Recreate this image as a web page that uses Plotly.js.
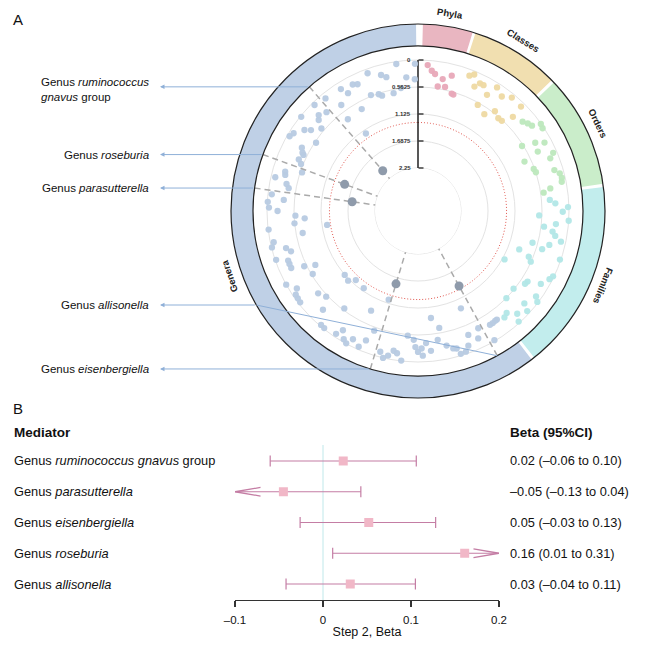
<!DOCTYPE html>
<html><head><meta charset="utf-8">
<script src="https://cdn.plot.ly/plotly-3.0.1.min.js"></script>
<style>html,body{margin:0;padding:0;background:#fff}</style>
</head><body><div id="chart" style="width:660px;height:662px"></div>
<script>
// ================= Panel A data (angle in degrees, value = -log10 P) =================
const phylaTheta = [3.8, 5.6, 7.1, 9.0, 10.6, 12.3, 14.0, 16.0, 16.9];
const phylaLogP  = [0.10, 0.21, 0.27, 0.52, 0.35, 0.50, 0.24, 0.60, 0.61];

const classTheta = [20.8, 22.4, 24.4, 25.9, 27.5, 29.4, 30.7, 32.6, 34.4, 36.2, 37.6, 39.6, 40.9, 42.9, 44.6, 45.2];
const classLogP  = [0.13, 0.07, 0.30, 0.19, 0.19, 0.61, 0.33, 0.09, 0.70, 0.19, 0.52, 0.08, 0.59, 0.58, 0.09, 0.36];

const orderTheta = [49.5, 51.4, 53.2, 54.7, 56.4, 58.0, 59.8, 61.6, 63.6, 65.1, 66.7, 68.3, 70.0, 71.8, 73.3, 75.1, 77.0, 78.5, 80.3, 81.7];
const orderLogP  = [0.28, 0.22, 0.18, 0.01, 0.03, 0.59, 0.32, 0.15, 0.36, 0.70, 0.08, 0.18, 0.58, 0.56, 0.18, 0.09, 0.07, 0.09, 0.35, 0.50];

const familyTheta = [85.2, 86.8, 88.5, 90.3, 92.1, 93.7, 95.4, 97.1, 98.7, 100.3, 102.1, 104.5, 105.5, 107.1, 108.9, 110.8, 112.4, 114.2, 115.8, 117.4, 119.2, 120.7, 122.8, 124.2, 125.9, 127.3, 129.1, 131.0, 132.5, 134.6, 136.0, 137.7, 139.0, 140.9];
const familyLogP  = [0.39, 0.28, 0.02, 0.13, 0.62, 0.00, 0.26, 0.50, 0.31, 0.24, 0.10, 0.32, 0.67, 0.44, 0.02, 0.89, 0.65, 0.57, 0.02, 0.06, 1.08, 0.17, 0.43, 0.45, 0.11, 0.02, 0.58, 0.21, 0.06, 0.56, 0.17, 0.03, 0.33, 0.29];

const genusTheta = [144.0,144.9,146.3,147.7,149.4,152.8,154.7,156.2,157.9,159.5,
  161.2,163.3,164.3,165.6,168.0,169.7,171.3,173.1,174.7,176.5,
  178.1,178.5,180.0,181.1,181.9,184.7,186.4,188.4,189.9,191.7,
  193.4,195.0,198.3,200.1,201.9,203.6,205.2,206.9,208.5,210.1,
  212.2,213.7,215.1,217.1,218.7,220.4,222.0,223.9,225.1,227.0,
  228.9,230.5,232.2,234.0,235.6,237.4,239.1,240.8,242.3,244.1,
  245.8,247.6,249.1,251.0,252.4,254.3,256.0,257.8,259.2,261.3,
  262.9,264.3,266.3,267.8,270.0,271.3,273.5,274.7,276.5,280.0,
  281.6,283.3,285.2,286.5,288.4,291.9,293.4,296.1,296.8,298.6,
  300.2,302.0,303.8,305.5,307.1,308.9,310.5,312.5,314.0,315.7,
  317.2,320.6,322.6,324.1,326.1,327.7,329.3,331.1,332.7,334.5,
  337.9,339.9,341.4,342.7,344.8,346.7,348.3,351.6,352.1,355.0,
  358.6,358.8];
const genusLogP = [0.35,0.35,0.34,0.34,0.02,0.40,0.21,0.93,0.36,0.15,
  0.05,0.04,0.17,0.19,0.28,0.67,0.43,0.90,0.22,0.39,
  0.13,0.28,0.21,0.31,0.46,0.54,0.01,0.15,0.19,0.07,
  0.00,0.11,1.20,0.49,0.24,0.06,0.85,0.15,0.01,0.06,
  0.21,0.07,1.18,0.60,0.02,0.03,1.21,0.29,1.09,0.53,
  1.12,0.45,0.04,0.05,0.06,0.15,0.59,0.00,0.73,0.51,
  0.25,0.25,0.25,0.02,0.37,0.29,0.01,0.07,0.70,1.23,
  0.01,0.56,0.78,0.59,0.22,0.04,0.01,0.34,0.08,0.41,
  0.35,0.09,0.28,0.26,0.60,0.52,0.44,0.49,0.45,0.39,
  0.05,0.09,0.59,0.24,0.35,0.02,0.50,0.34,0.27,0.06,
  0.34,0.11,0.74,0.42,1.20,0.14,0.29,0.72,0.18,0.22,
  0.54,0.09,0.58,0.63,0.21,0.28,0.64,0.05,0.56,0.35,
  0.40,0.08];

// significant genera (mediators)
const sigLabels = ['Genus <i>ruminococcus</i><br><i>gnavus</i> group', 'Genus <i>roseburia</i>', 'Genus <i>parasutterella</i>', 'Genus <i>eisenbergiella</i>', 'Genus <i>allisonella</i>'];
const sigTheta = [318.8, 290.0, 278.0, 196.8, 151.3];
const sigLogP  = [2.03, 1.52, 1.76, 1.56, 1.365];

const radialTicks = [0, 0.5625, 1.125, 1.6875, 2.25];
const threshold = 1.301;   // -log10(0.05)

const ringNames = ['Phyla', 'Classes', 'Orders', 'Families', 'Genera'];
const ringStart = [1.5, 17.9, 46.6, 82.6, 142.6];
const ringEnd   = [17.0, 45.6, 81.6, 141.6, 359.4];
const ringColors = ['#e9b6c1', '#f1dfb0', '#caedca', '#c2eded', '#bfd0e6'];
const pointColors = ['#e8a8b8', '#eed9a2', '#bde8bd', '#b2e7e7', '#b7cae2'];

// ================= Panel B data =================
const mediators = ['Genus <i>ruminococcus gnavus</i> group', 'Genus <i>parasutterella</i>', 'Genus <i>eisenbergiella</i>', 'Genus <i>roseburia</i>', 'Genus <i>allisonella</i>'];
const beta   = [0.023, -0.045, 0.052, 0.161, 0.031];
const ciLow  = [-0.060, -0.13, -0.026, 0.011, -0.042];
const ciHigh = [0.106, 0.043, 0.128, 0.31, 0.105];
const betaText = ['0.02 (\u20130.06 to 0.10)', '\u20130.05 (\u20130.13 to 0.04)', '0.05 (\u20130.03 to 0.13)', '0.16 (0.01 to 0.31)', '0.03 (\u20130.04 to 0.11)'];
const xTicks = [-0.1, 0, 0.1, 0.2];
const xTickText = ['\u20130.1', '0', '0.1', '0.2'];

// ================= geometry / styling =================
const W = 660, H = 662;
const CX = 418, CY = 211;        // circle centre (px)
const R_IN = 165, R_OUT = 187, R_HOLE = 43, R_ZERO = 151;
const pxPerUnit = (R_ZERO - R_HOLE) / 2.25;
const rMin = -(R_IN - R_ZERO) / pxPerUnit;
const FONT = 'Liberation Sans, Arial, Helvetica, sans-serif';
const px = x => x / W, py = y => 1 - y / H;
const rad = d => d * Math.PI / 180;

const traces = [];
// ring (polar2)
traces.push({
  type: 'barpolar', subplot: 'polar2',
  theta: ringStart.map((s, i) => (s + ringEnd[i]) / 2),
  width: ringStart.map((s, i) => ringEnd[i] - s),
  r: ringNames.map(() => 1), base: ringNames.map(() => 0),
  marker: {color: ringColors, line: {width: 0}}, hoverinfo: 'skip'
});
// threshold circle and inner grid circle
const circT = []; for (let t = 0; t <= 360; t += 2) circT.push(t);
traces.push({type: 'scatterpolar', mode: 'lines', theta: circT, r: circT.map(() => 2.25),
  line: {color: '#e3e3e3', width: 1}, hoverinfo: 'skip'});
traces.push({type: 'scatterpolar', mode: 'lines', theta: circT, r: circT.map(() => threshold),
  line: {color: '#e0574f', width: 1, dash: '1px,2px'}, hoverinfo: 'skip'});
// radial axis line
traces.push({type: 'scatterpolar', mode: 'lines', theta: [0, 0], r: [0, 2.25],
  line: {color: '#111', width: 1.4}, hoverinfo: 'skip'});
// points
const groups = [[phylaTheta, phylaLogP], [classTheta, classLogP], [orderTheta, orderLogP], [familyTheta, familyLogP], [genusTheta, genusLogP]];
groups.forEach((g, i) => traces.push({type: 'scatterpolar', mode: 'markers', theta: g[0], r: g[1],
  marker: {size: 6.3, color: pointColors[i], opacity: 0.95, line: {width: 0}}, hoverinfo: 'skip'}));
// dashed guide lines for significant genera
const dT = [], dR = [];
sigTheta.forEach(t => { dT.push(t, t, null); dR.push(rMin, 2.25, null); });
traces.push({type: 'scatterpolar', mode: 'lines', theta: dT, r: dR,
  line: {color: '#aaaaaa', width: 1.5, dash: '6px,4px'}, hoverinfo: 'skip'});
traces.push({type: 'scatterpolar', mode: 'markers', theta: sigTheta, r: sigLogP,
  marker: {size: 9, color: '#8f9bab', line: {width: 0}}, hoverinfo: 'skip'});

// ---- forest plot ----
const rows = mediators.map((m, i) => mediators.length - i);
const xMin = xTicks[0], xMax = xTicks[xTicks.length - 1];
const ciColor = '#c47da4';
traces.push({type: 'scatter', mode: 'lines', x: [0, 0], y: [0.48, 5.52], line: {color: '#bfe8ea', width: 1}, hoverinfo: 'skip'});
const lx = [], ly = [], cx = [], cy = [], ax = [], ay = [];
beta.forEach((b, i) => {
  const lo = Math.max(ciLow[i], xMin), hi = Math.min(ciHigh[i], xMax);
  lx.push(lo, hi, null); ly.push(rows[i], rows[i], null);
  if (ciLow[i] >= xMin) { cx.push(ciLow[i]); cy.push(rows[i]); }
  else { ax.push(xMin + 0.029, xMin, xMin + 0.029, null); ay.push(rows[i] + 0.14, rows[i], rows[i] - 0.14, null); }
  if (ciHigh[i] <= xMax) { cx.push(ciHigh[i]); cy.push(rows[i]); }
  else { ax.push(xMax - 0.029, xMax, xMax - 0.029, null); ay.push(rows[i] + 0.14, rows[i], rows[i] - 0.14, null); }
});
traces.push({type: 'scatter', mode: 'lines', x: lx, y: ly, line: {color: ciColor, width: 1.2}, hoverinfo: 'skip', cliponaxis: false});
traces.push({type: 'scatter', mode: 'lines', x: ax, y: ay, line: {color: ciColor, width: 1.3}, hoverinfo: 'skip', cliponaxis: false});
traces.push({type: 'scatter', mode: 'markers', x: cx, y: cy, marker: {symbol: 'line-ns', size: 8, line: {width: 1.2, color: ciColor}}, hoverinfo: 'skip', cliponaxis: false});
traces.push({type: 'scatter', mode: 'markers', x: beta, y: rows, marker: {symbol: 'square', size: 9, color: '#f1b7c7', line: {width: 0}}, hoverinfo: 'skip', cliponaxis: false});

// ---- annotations ----
const ann = [];
ann.push({text: 'A', x: px(11), y: py(20), xref: 'paper', yref: 'paper', xanchor: 'left', yanchor: 'middle', showarrow: false, font: {size: 15, color: '#111', family: FONT}});
ann.push({text: 'B', x: px(11), y: py(408), xref: 'paper', yref: 'paper', xanchor: 'left', yanchor: 'middle', showarrow: false, font: {size: 15, color: '#111', family: FONT}});
// radial tick labels (left of the radial axis)
radialTicks.forEach(v => {
  const yy = CY - (R_ZERO - v * pxPerUnit);
  ann.push({text: String(v), x: px(CX - 5), y: py(yy), xref: 'paper', yref: 'paper', xanchor: 'right', yanchor: 'middle',
    showarrow: false, font: {size: 6, color: '#333', family: FONT, weight: 'bold'}});
});
// ring labels
const labelR = 200;
ringNames.forEach((n, i) => {
  const mid = (ringStart[i] + ringEnd[i]) / 2;
  const x = CX + labelR * Math.sin(rad(mid)), y = CY - labelR * Math.cos(rad(mid));
  ann.push({text: '<b>' + n + '</b>', x: px(x), y: py(y), xref: 'paper', yref: 'paper', xanchor: 'center', yanchor: 'middle',
    showarrow: false, textangle: mid > 180 ? mid - 360 : mid, font: {size: 9.5, color: '#222', family: FONT}});
});
// connectors
const shapes = [];
const labelYOverride = [null, null, null, null, 305];
const arrowTip = 160, labelRight = 150.5;
sigTheta.forEach((t, i) => {
  const rx = CX + R_IN * Math.sin(rad(t)), ry = CY - R_IN * Math.cos(rad(t));
  let ly2 = ry, tailX = rx;
  if (labelYOverride[i] !== null) {
    ly2 = labelYOverride[i];
    tailX = CX - Math.sqrt(R_OUT * R_OUT - (ly2 - CY) * (ly2 - CY));
    shapes.push({type: 'line', xref: 'paper', yref: 'paper', x0: px(tailX), y0: py(ly2), x1: px(rx), y1: py(ry), line: {color: '#8fb0d8', width: 1}});
  }
  ann.push({text: '', x: px(arrowTip), y: py(ly2), xref: 'paper', yref: 'paper', ax: tailX - arrowTip, ay: 0,
    showarrow: true, arrowhead: 2, arrowsize: 0.9, arrowwidth: 1, arrowcolor: '#8fb0d8', standoff: 0, startstandoff: 0});
  ann.push({text: sigLabels[i], x: px(labelRight), y: py(ly2 + (i === 0 ? 3 : 0)), xref: 'paper', yref: 'paper', xanchor: 'right', yanchor: 'middle', align: 'left',
    showarrow: false, font: {size: 11.5, color: '#111', family: FONT}});
});
// forest texts
ann.push({text: '<b>Mediator</b>', x: px(12), y: py(432), xref: 'paper', yref: 'paper', xanchor: 'left', yanchor: 'middle', showarrow: false, font: {size: 13.5, color: '#111', family: FONT}});
ann.push({text: '<b>Beta (95%CI)</b>', x: px(508), y: py(432), xref: 'paper', yref: 'paper', xanchor: 'left', yanchor: 'middle', showarrow: false, font: {size: 13.5, color: '#111', family: FONT}});
mediators.forEach((m, i) => {
  ann.push({text: m, x: px(12), y: rows[i], xref: 'paper', yref: 'y', xanchor: 'left', yanchor: 'middle', showarrow: false, font: {size: 12.8, color: '#111', family: FONT}});
  ann.push({text: betaText[i], x: px(508), y: rows[i], xref: 'paper', yref: 'y', xanchor: 'left', yanchor: 'middle', showarrow: false, font: {size: 12.8, color: '#111', family: FONT}});
});

const layout = {
  width: W, height: H, margin: {l: 0, r: 0, t: 0, b: 0, pad: 0},
  paper_bgcolor: '#fff', plot_bgcolor: 'rgba(0,0,0,0)', showlegend: false,
  font: {family: FONT, color: '#111'},
  polar: {
    domain: {x: [px(CX - R_IN), px(CX + R_IN)], y: [py(CY + R_IN), py(CY - R_IN)]},
    hole: R_HOLE / R_IN, bgcolor: 'rgba(0,0,0,0)',
    radialaxis: {range: [2.25, rMin], tickvals: radialTicks, angle: 90, showticklabels: false,
      side: 'clockwise', ticks: 'outside', ticklen: 5, tickwidth: 1.2, tickcolor: '#111',
      showline: false, showgrid: true, gridcolor: '#e3e3e3', gridwidth: 1},
    angularaxis: {rotation: 90, direction: 'clockwise', showgrid: false, showticklabels: false, ticks: '',
      showline: false}
  },
  polar2: {
    domain: {x: [px(CX - R_OUT), px(CX + R_OUT)], y: [py(CY + R_OUT), py(CY - R_OUT)]},
    hole: R_IN / R_OUT, bgcolor: 'rgba(0,0,0,0)',
    radialaxis: {range: [0, 1], visible: false, showgrid: false},
    angularaxis: {rotation: 90, direction: 'clockwise', showgrid: false, showticklabels: false, ticks: '',
      showline: true, linecolor: '#222', linewidth: 1.2}
  },
  xaxis: {domain: [px(235), px(499)], range: [xMin, xMax], tickvals: xTicks, ticktext: xTickText,
    ticks: 'outside', ticklen: 6, tickwidth: 1.2, tickcolor: '#333', showline: true, linecolor: '#333', linewidth: 1.2,
    showgrid: false, zeroline: false, tickfont: {size: 11.5, color: '#111'}, ticklabelstandoff: 3,
    title: {text: 'Step 2, Beta', font: {size: 12.5, color: '#111'}, standoff: 2}, anchor: 'y', fixedrange: true},
  yaxis: {domain: [py(600), py(445)], range: [0.48, 5.52], visible: false, fixedrange: true},
  annotations: ann, shapes: shapes
};
Plotly.newPlot('chart', traces, layout, {staticPlot: true, displayModeBar: false});
</script></body></html>
